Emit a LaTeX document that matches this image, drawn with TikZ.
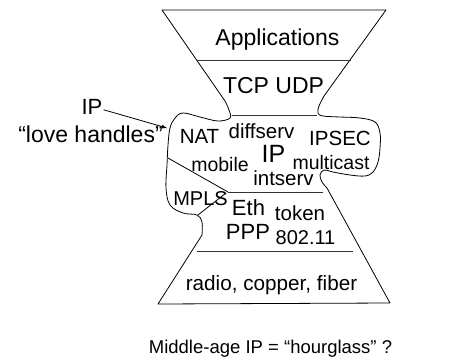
\documentclass[tikz,border=0pt]{standalone}
\usepackage{fontspec}
\setmainfont{Liberation Sans}
\tikzstyle{hourglass} = [x = 1pt, y = -1pt]
\tikzstyle{outlineStyle} = [color=black, line width=.8pt, line join=round]
\tikzstyle{layerLine} = [color=black!80, line width=1pt]
\tikzstyle{layerText} = [anchor=base, inner sep=1pt]
\tikzstyle{handleArrow} = [-latex, color=black, line width=.8pt]
\newcommand{\layerBoundary}[3]{\draw [layerLine] (#1, #3) -- (#2, #3);}
\newcommand{\layerLabel}[5]{\node [layerText, font=\fontsize{#4}{#4}\selectfont] (#1) at (#2, #3) {#5};}
\begin{document}
\begin{tikzpicture}[hourglass]
  \useasboundingbox (0,0) rectangle (452,359);
  % outline of the hourglass with the love handles
  \draw [outlineStyle] (162,10) -- (386,10) -- (324,96)
    -- plot [smooth, tension=.6] coordinates {(324,96) (319,106) (318,113) (323,116) (340,117) (360,118) (375,122) (380,133) (380,148) (378,162) (373,172) (365,176) (350,175) (333,172) (324,170) (320,175) (322,182) (327,188)}
    -- (390,303) -- (158,304) -- (202,235)
    -- plot [smooth, tension=.6] coordinates {(202,235) (202,222) (197,215) (183,213) (170,205) (166,188) (167,165) (168,145) (170,128) (175,118) (183,113) (200,117) (218,121) (230,118) (229,110) (225,101)}
    -- cycle;
  \draw [outlineStyle] (168,158) -- (228,192);
  \draw [outlineStyle] (198,215) -- (226,193);
  \layerBoundary{197}{351}{60}
  \layerBoundary{232}{317}{115}
  \layerBoundary{228}{323}{192}
  \layerBoundary{197}{353}{251}
  % layer texts
  \layerLabel{applications}{277.5}{45}{23}{Applications}
  \layerLabel{transport}{273.5}{93}{23}{TCP UDP}
  \layerLabel{nat}{199.5}{143}{20.5}{NAT}
  \layerLabel{diffserv}{261.5}{138}{20.5}{diffserv}
  \layerLabel{ipsec}{340}{145}{20.5}{IPSEC}
  \layerLabel{ipCore}{273.5}{162}{25}{IP}
  \layerLabel{mobile}{220}{171}{19.5}{mobile}
  \layerLabel{multicast}{331}{169}{19.5}{multicast}
  \layerLabel{intserv}{283.5}{185}{20.5}{intserv}
  \layerLabel{mpls}{200.5}{205}{20}{MPLS}
  \layerLabel{eth}{248.5}{215}{22}{Eth}
  \layerLabel{token}{300}{220}{20.5}{token}
  \layerLabel{ppp}{248}{239}{22}{PPP}
  \layerLabel{wifi}{305.5}{244}{20}{802.11}
  \layerLabel{physical}{271.5}{290}{20.7}{radio, copper, fiber}
  \layerLabel{ipLabel}{92}{114}{22}{IP}
  \layerLabel{handlesLabel}{90.5}{142}{23}{“love handles”}
  \layerLabel{caption}{270.5}{353}{18.5}{Middle-age IP = “hourglass” ?}
  \coordinate (handleTip) at (167,128);
  \draw [handleArrow] (ipLabel) -- (handleTip);
\end{tikzpicture}
\end{document}
